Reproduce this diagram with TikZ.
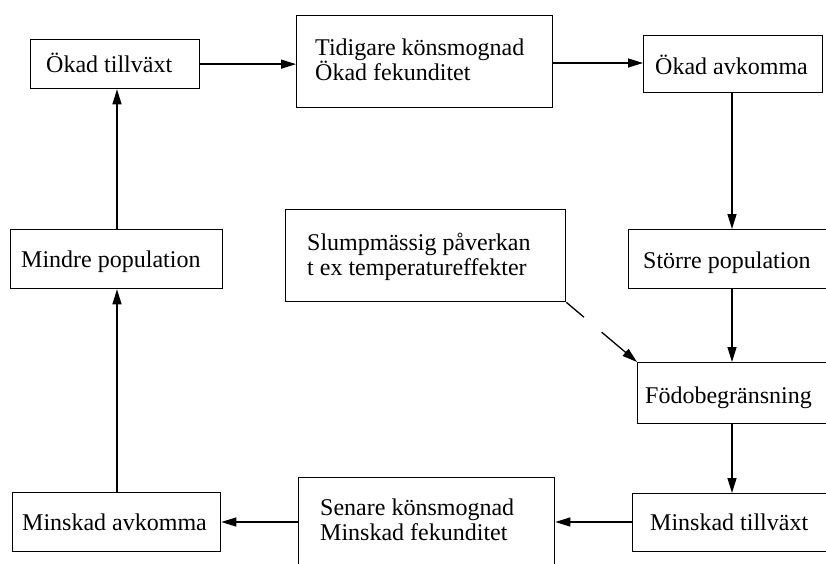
\documentclass[tikz,border=0pt]{standalone}
\usepackage{fontspec}
\setmainfont{Liberation Serif}
\usetikzlibrary{arrows.meta,calc}
\tikzset{
  box/.style={draw, line width=1.3pt, inner sep=0pt, anchor=north west},
  txt/.style={inner sep=0pt, anchor=base west, font=\fontsize{24}{25}\selectfont},
  arr/.style={line width=1.3pt, -{Triangle[length=15pt,width=9pt]}},
  ln/.style={line width=1.3pt}
}
\begin{document}
\begin{tikzpicture}[x=1pt,y=-1pt]
\useasboundingbox (0,0) rectangle (826,564);
\clip (0,0) rectangle (826,564);
\fill[white] (0,0) rectangle (826,564);
% boxes
\node[box, minimum width=169pt, minimum height=49pt] (b1) at (30,39) {};
\node[box, minimum width=256pt, minimum height=92pt] (b2) at (296,15) {};
\node[box, minimum width=179pt, minimum height=57pt] (b3) at (643,35) {};
\node[box, minimum width=212pt, minimum height=59pt] (b4) at (10,229) {};
\node[box, minimum width=280pt, minimum height=92pt] (s) at (285,209) {};
\node[box, minimum width=220pt, minimum height=59pt] (b5) at (628,229) {};
\node[box, minimum width=210pt, minimum height=61pt] (b6) at (637,362) {};
\node[box, minimum width=215pt, minimum height=58pt] (b7) at (632,493) {};
\node[box, minimum width=256pt, minimum height=110pt] (b8) at (298,477) {};
\node[box, minimum width=208pt, minimum height=59pt] (b9) at (12,492) {};
% texts
\node[txt] (t1) at (46,73) {Ökad tillväxt};
\node[txt] (t2a) at (315,56) {Tidigare könsmognad};
\node[txt] (t2b) at (315,81) {Ökad fekunditet};
\node[txt] (t3) at (655,75) {Ökad avkomma};
\node[txt] (t4) at (21,267) {Mindre population};
\node[txt] (tsa) at (307,250) {Slumpmässig påverkan};
\node[txt] (tsb) at (307,275) {t ex temperatureffekter};
\node[txt] (t5) at (643,268) {Större population};
\node[txt] (t6) at (645,403) {Födobegränsning};
\node[txt] (t7) at (650,530) {Minskad tillväxt};
\node[txt] (t8a) at (320,515) {Senare könsmognad};
\node[txt] (t8b) at (320,540) {Minskad fekunditet};
\node[txt] (t9) at (22,530) {Minskad avkomma};
% connectors
\coordinate (rx) at (732,0);
\coordinate (lx) at (117,0);
\draw[arr] (b1.east) -- (b1.east -| b2.west);
\draw[arr] (b2.west |- 0,63) ++(256,0) coordinate (b2e) -- (b2e -| b3.west);
\draw[arr] (b3.south -| rx) -- (b5.north -| rx);
\draw[arr] (b5.south -| rx) -- (b6.north -| rx);
\draw[arr] (b6.south -| rx) -- (b7.north -| rx);
\draw[arr] (b7.west |- 0,522) coordinate (b7w) -- (b7w -| b8.east);
\draw[arr] (b8.west |- 0,522) coordinate (b8w) -- (b8w -| b9.east);
\draw[arr] (b9.north -| lx) -- (b4.south -| lx);
\draw[arr] (b4.north -| lx) -- (b1.south -| lx);
\draw[ln] (s.south east) -- ($(s.south east)!0.25!(b6.north west)$);
\draw[arr] ($(s.south east)!0.5!(b6.north west)$) -- (b6.north west);
\end{tikzpicture}
\end{document}
